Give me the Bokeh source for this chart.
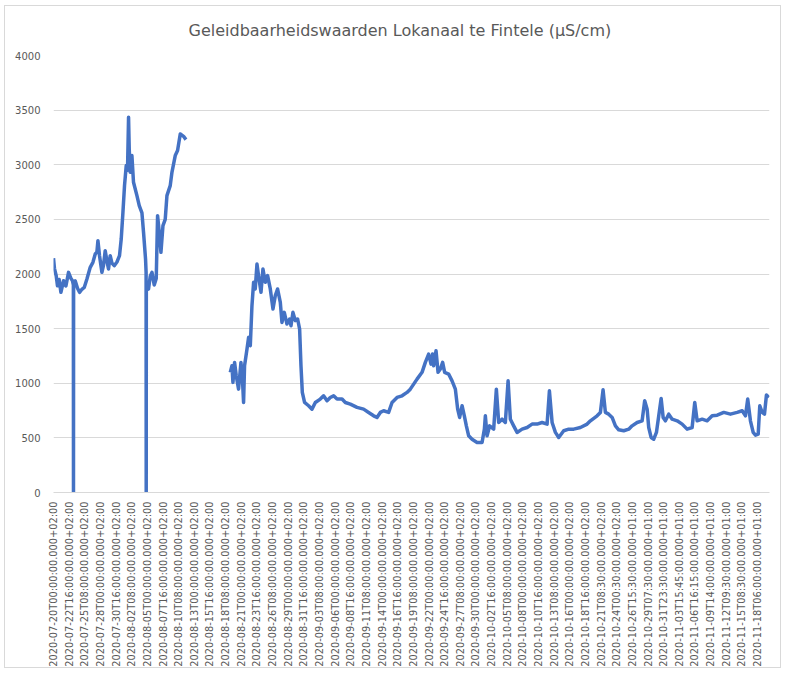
import math
from bokeh.plotting import figure
from bokeh.models import FixedTicker, Range1d
from bokeh.embed import file_html
from bokeh.resources import INLINE

# Category labels (one every 256 samples of 15 min)
tick_labels = [
    "2020-07-20T00:00:00.000+02:00", "2020-07-22T16:00:00.000+02:00",
    "2020-07-25T08:00:00.000+02:00", "2020-07-28T00:00:00.000+02:00",
    "2020-07-30T16:00:00.000+02:00", "2020-08-02T08:00:00.000+02:00",
    "2020-08-05T00:00:00.000+02:00", "2020-08-07T16:00:00.000+02:00",
    "2020-08-10T08:00:00.000+02:00", "2020-08-13T00:00:00.000+02:00",
    "2020-08-15T16:00:00.000+02:00", "2020-08-18T08:00:00.000+02:00",
    "2020-08-21T00:00:00.000+02:00", "2020-08-23T16:00:00.000+02:00",
    "2020-08-26T08:00:00.000+02:00", "2020-08-29T00:00:00.000+02:00",
    "2020-08-31T16:00:00.000+02:00", "2020-09-03T08:00:00.000+02:00",
    "2020-09-06T00:00:00.000+02:00", "2020-09-08T16:00:00.000+02:00",
    "2020-09-11T08:00:00.000+02:00", "2020-09-14T00:00:00.000+02:00",
    "2020-09-16T16:00:00.000+02:00", "2020-09-19T08:00:00.000+02:00",
    "2020-09-22T00:00:00.000+02:00", "2020-09-24T16:00:00.000+02:00",
    "2020-09-27T08:00:00.000+02:00", "2020-09-30T00:00:00.000+02:00",
    "2020-10-02T16:00:00.000+02:00", "2020-10-05T08:00:00.000+02:00",
    "2020-10-08T00:00:00.000+02:00", "2020-10-10T16:00:00.000+02:00",
    "2020-10-13T08:00:00.000+02:00", "2020-10-16T00:00:00.000+02:00",
    "2020-10-18T16:00:00.000+02:00", "2020-10-21T08:30:00.000+02:00",
    "2020-10-24T00:30:00.000+02:00", "2020-10-26T15:30:00.000+01:00",
    "2020-10-29T07:30:00.000+01:00", "2020-10-31T23:30:00.000+01:00",
    "2020-11-03T15:45:00.000+01:00", "2020-11-06T16:15:00.000+01:00",
    "2020-11-09T14:00:00.000+01:00", "2020-11-12T09:30:00.000+01:00",
    "2020-11-15T08:30:00.000+01:00", "2020-11-18T06:00:00.000+01:00",
]
samples_per_label = 256
n_samples = 11715

# Segment 1 (sample index, conductivity µS/cm)
seg1_idx = [0, 16, 44, 65, 93, 121, 164, 203, 246, 285, 311, 325, 327, 329,
            355, 393, 426, 465, 503, 547, 601, 645, 683, 710, 727, 753, 792,
            818, 846, 874, 900, 928, 956, 994, 1038, 1080, 1108, 1136, 1162,
            1190, 1211, 1228, 1239, 1255, 1283, 1309, 1365, 1403, 1447, 1473,
            1506, 1515, 1517, 1519, 1555, 1583, 1611, 1648, 1681, 1703, 1730,
            1758, 1791, 1828, 1856, 1910, 1938, 1992, 2030, 2074, 2128, 2167]
seg1_val = [2144, 2050, 1984, 1893, 1950, 1832, 1938, 1890, 2015, 1960, 1938,
            1900, 0, 1920, 1938, 1870, 1832, 1860, 1877, 1954, 2061, 2107,
            2183, 2200, 2305, 2168, 2015, 2080, 2213, 2120, 2046, 2168, 2100,
            2076, 2110, 2168, 2320, 2565, 2809, 2992, 2950, 3435, 3145, 2931,
            3084, 2840, 2717, 2626, 2560, 2382, 2137, 2015, 0, 1900, 1862,
            1980, 2015, 1900, 1960, 2534, 2382, 2199, 2442, 2500, 2717, 2809,
            2931, 3084, 3130, 3282, 3260, 3230]

# Segment 2
seg2_idx = [2892, 2920, 2936, 2963, 2990, 3028, 3067, 3094, 3110, 3126, 3166,
            3192, 3220, 3247, 3274, 3301, 3329, 3355, 3395, 3427, 3465, 3503,
            3547, 3591, 3629, 3666, 3711, 3738, 3776, 3820, 3863, 3886, 3918,
            3956, 3994, 4027, 4049, 4071, 4108, 4174, 4229, 4284, 4365, 4419,
            4475, 4529, 4583, 4639, 4721, 4775, 4856, 4966, 5074, 5156, 5238,
            5293, 5347, 5401, 5483, 5539, 5621, 5703, 5784, 5838, 5948, 6030,
            6084, 6138, 6177, 6203, 6220, 6259, 6292, 6330, 6367, 6400, 6465,
            6521, 6575, 6613, 6645, 6685, 6722, 6755, 6793, 6848, 6930, 7012,
            7050, 7066, 7094, 7136, 7202, 7246, 7284, 7339, 7393, 7438, 7475,
            7529, 7585, 7667, 7749, 7830, 7912, 7994, 8076, 8114, 8158, 8212,
            8266, 8348, 8430, 8511, 8621, 8731, 8785, 8894, 8948, 8992, 9030,
            9084, 9140, 9194, 9248, 9330, 9412, 9467, 9549, 9631, 9673, 9713,
            9739, 9778, 9821, 9865, 9903, 9942, 9975, 10012, 10066, 10122,
            10204, 10286, 10367, 10449, 10492, 10531, 10613, 10695, 10777,
            10859, 10967, 11076, 11186, 11268, 11322, 11359, 11403, 11448,
            11486, 11530, 11556, 11595, 11633, 11665, 11703]
seg2_val = [1100, 1160, 1008, 1191, 1068, 946, 1191, 1008, 824, 1160, 1313,
            1420, 1344, 1709, 1924, 1863, 2091, 1985, 1832, 2046, 1924, 1985,
            1863, 1679, 1802, 1863, 1741, 1557, 1649, 1542, 1588, 1527, 1649,
            1573, 1588, 1496, 1160, 916, 824, 794, 763, 824, 855, 885, 840,
            870, 885, 855, 855, 824, 809, 779, 763, 733, 702, 687, 733, 748,
            733, 824, 870, 885, 916, 946, 1038, 1100, 1191, 1267, 1175, 1267,
            1160, 1297, 1100, 1130, 1191, 1100, 1084, 1022, 946, 763, 687, 794,
            702, 610, 519, 488, 458, 458, 580, 702, 519, 610, 580, 946, 641,
            671, 641, 1022, 671, 610, 550, 580, 595, 626, 626, 641, 626, 931,
            641, 550, 504, 565, 580, 580, 595, 626, 656, 702, 733, 940, 733,
            717, 687, 610, 574, 565, 580, 610, 641, 656, 839, 763, 595, 504,
            488, 550, 702, 860, 687, 656, 717, 671, 656, 626, 580, 595, 824,
            656, 671, 656, 702, 708, 733, 717, 733, 748, 702, 855, 656, 550,
            525, 534, 794, 733, 717, 892, 870]

y_ticks = [0, 500, 1000, 1500, 2000, 2500, 3000, 3500, 4000]

xs = seg1_idx + [float("nan")] + seg2_idx
ys = seg1_val + [float("nan")] + seg2_val

grey_text = "#595959"
grid = "#D9D9D9"

p = figure(width=777, height=663, output_backend="svg", toolbar_location=None,
           x_range=Range1d(0, n_samples), y_range=Range1d(0, 4000),
           min_border_left=48, min_border_right=13, min_border_top=48,
           min_border_bottom=176)
p.outline_line_color = None
p.background_fill_color = "white"
p.border_fill_color = "white"
p.styles = {"margin-left": "4px", "margin-top": "5px",
            "border": "1px solid #D9D9D9"}

p.title.text = "Geleidbaarheidswaarden  Lokanaal te Fintele (µS/cm)"
p.title.align = "left"
p.title.offset = 135
p.title.vertical_align = "top"
p.title.standoff = 28
p.title.text_font = "DejaVu Sans"
p.title.text_font_size = "16px"
p.title.text_font_style = "normal"
p.title.text_color = grey_text

p.line(xs, ys, line_color="#4472C4", line_width=3.5, line_join="round")

# y axis
p.yaxis.ticker = FixedTicker(ticks=y_ticks)
p.yaxis.axis_line_color = None
p.yaxis.major_tick_line_color = None
p.yaxis.minor_tick_line_color = None
p.yaxis.major_label_text_font = "DejaVu Sans"
p.yaxis.major_label_text_font_size = "10px"
p.yaxis.major_label_text_color = grey_text
p.yaxis.major_label_standoff = 7

# x axis
x_ticks = [i * samples_per_label for i in range(len(tick_labels))]
p.xaxis.ticker = FixedTicker(ticks=x_ticks)
p.xaxis.major_label_overrides = {t: lab for t, lab in zip(x_ticks, tick_labels)}
p.xaxis.major_label_orientation = math.pi / 2
p.xaxis.axis_line_color = grid
p.xaxis.major_tick_line_color = None
p.xaxis.minor_tick_line_color = None
p.xaxis.major_label_text_font = "DejaVu Sans"
p.xaxis.major_label_text_font_size = "9.8px"
p.xaxis.major_label_text_color = grey_text
p.xaxis.major_label_standoff = 3

p.xgrid.grid_line_color = None
p.ygrid.ticker = FixedTicker(ticks=y_ticks)
p.ygrid.grid_line_color = grid
p.ygrid.grid_line_width = 1

open("out.html", "w").write(file_html(p, INLINE))
